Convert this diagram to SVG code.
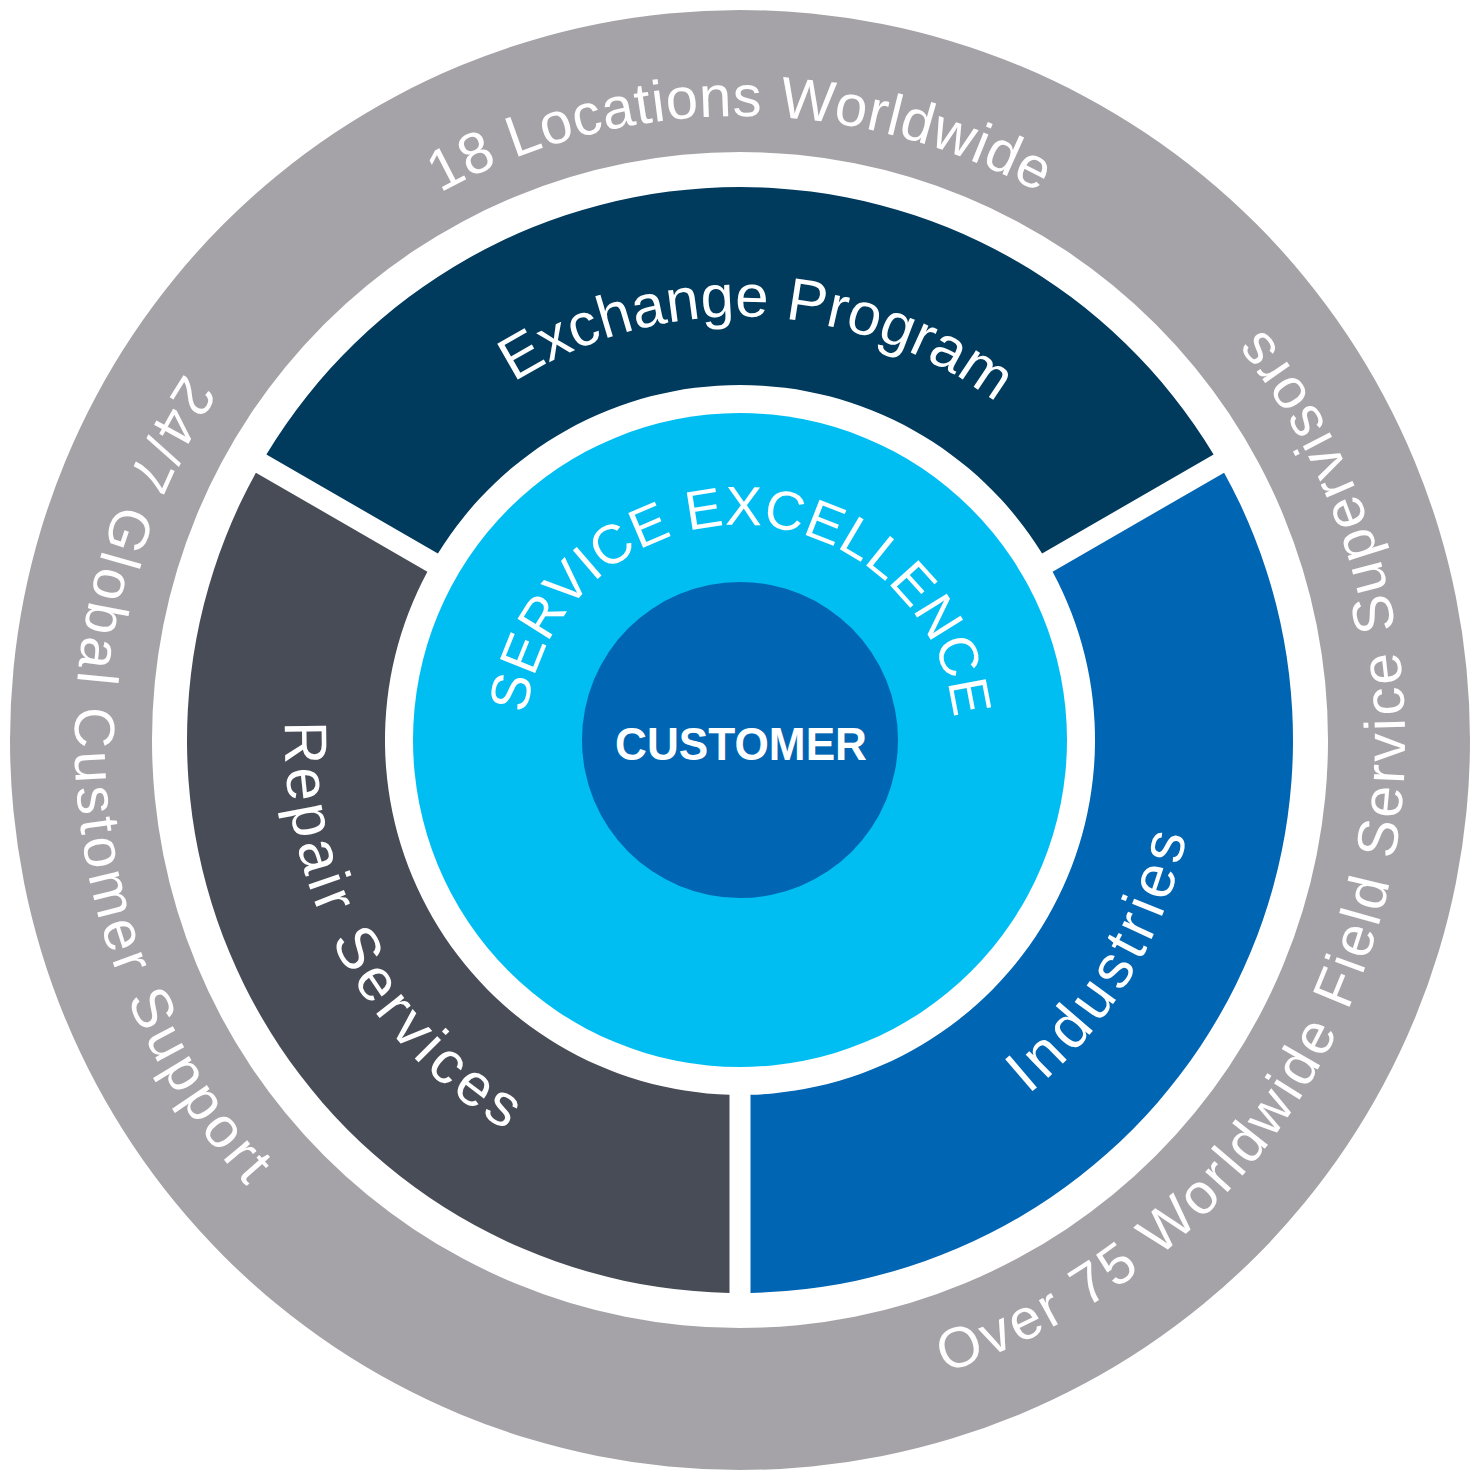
<svg xmlns="http://www.w3.org/2000/svg" xmlns:xlink="http://www.w3.org/1999/xlink" width="1480" height="1480" viewBox="0 0 1480 1480">
<style>
.t{font-family:"Liberation Sans",Arial,Helvetica,sans-serif;fill:#ffffff;}
.outer{font-size:58px;letter-spacing:0.5px;}
.left{font-size:57px;letter-spacing:4px;}
.right{font-size:57px;letter-spacing:3.2px;}
.seg{font-size:60px;}
.rep{font-size:60px;letter-spacing:4.6px;}
.ind{font-size:61px;letter-spacing:5px;}
.svc{font-size:55px;letter-spacing:0.4px;}
.cust{font-size:46px;font-weight:bold;}
</style>
<defs>
<path id="pTop" d="M125.5,631.6 A624,624 0 0 1 1354.5,631.6"/>
<path id="pLeft" d="M630.2,84.1 A665,665 0 0 0 734.2,1405.0"/>
<path id="pRight" d="M440.7,1333.8 A665,665 0 1 0 818.2,79.6"/>
<path id="pExch" d="M327.1,649.0 A423,423 0 0 1 1159.6,684.1"/>
<path id="pRep" d="M455.7,384.7 A455,455 0 0 0 885.5,1171.1"/>
<path id="pInd" d="M651.2,1188.3 A457,457 0 0 0 1096.0,453.4"/>
<path id="pSvc" d="M537.2,811.4 A215,215 0 1 1 941.3,815.6"/>
</defs>
<rect width="1480" height="1480" fill="#ffffff"/>
<g id="outer-ring">
<path fill="#a6a3a8" fill-rule="evenodd" d="M10,740 A730,730 0 1 0 1470,740 A730,730 0 1 0 10,740 Z M152,740 A588,588 0 1 1 1328,740 A588,588 0 1 1 152,740 Z"/>
<text class="t outer"><textPath xlink:href="#pTop" href="#pTop" startOffset="50%" text-anchor="middle">18 Locations Worldwide</textPath></text>
<text class="t left"><textPath xlink:href="#pLeft" href="#pLeft" startOffset="50%" text-anchor="middle">24/7 Global Customer Support</textPath></text>
<text class="t right"><textPath xlink:href="#pRight" href="#pRight" startOffset="50%" text-anchor="middle">Over 75 Worldwide Field Service Supervisors</textPath></text>
</g>
<g id="exchange-program">
<path fill="#003a5d" d="M266.4,454.5 A553,553 0 0 1 1213.6,454.5 L1042.1,553.5 A355,355 0 0 0 437.9,553.5 Z"/>
<text class="t seg"><textPath xlink:href="#pExch" href="#pExch" startOffset="50%" text-anchor="middle">Exchange Program</textPath></text>
</g>
<g id="industries">
<path fill="#0065b3" d="M1224.1,472.7 A553,553 0 0 1 750.5,1292.9 L750.5,1094.8 A355,355 0 0 0 1052.6,571.7 Z"/>
<text class="t ind"><textPath xlink:href="#pInd" href="#pInd" startOffset="50%" text-anchor="middle">Industries</textPath></text>
</g>
<g id="repair-services">
<path fill="#484c57" d="M729.5,1292.9 A553,553 0 0 1 255.9,472.7 L427.4,571.7 A355,355 0 0 0 729.5,1094.8 Z"/>
<text class="t rep"><textPath xlink:href="#pRep" href="#pRep" startOffset="50%" text-anchor="middle">Repair Services</textPath></text>
</g>
<g id="service-excellence">
<circle cx="740" cy="740" r="327" fill="#00bef2"/>
<text class="t svc"><textPath xlink:href="#pSvc" href="#pSvc" startOffset="50%" text-anchor="middle">SERVICE EXCELLENCE</textPath></text>
</g>
<g id="customer">
<circle cx="740" cy="740" r="158" fill="#0065b3"/>
<text class="t cust" x="741" y="760" text-anchor="middle" textLength="252" lengthAdjust="spacingAndGlyphs">CUSTOMER</text>
</g>
</svg>
